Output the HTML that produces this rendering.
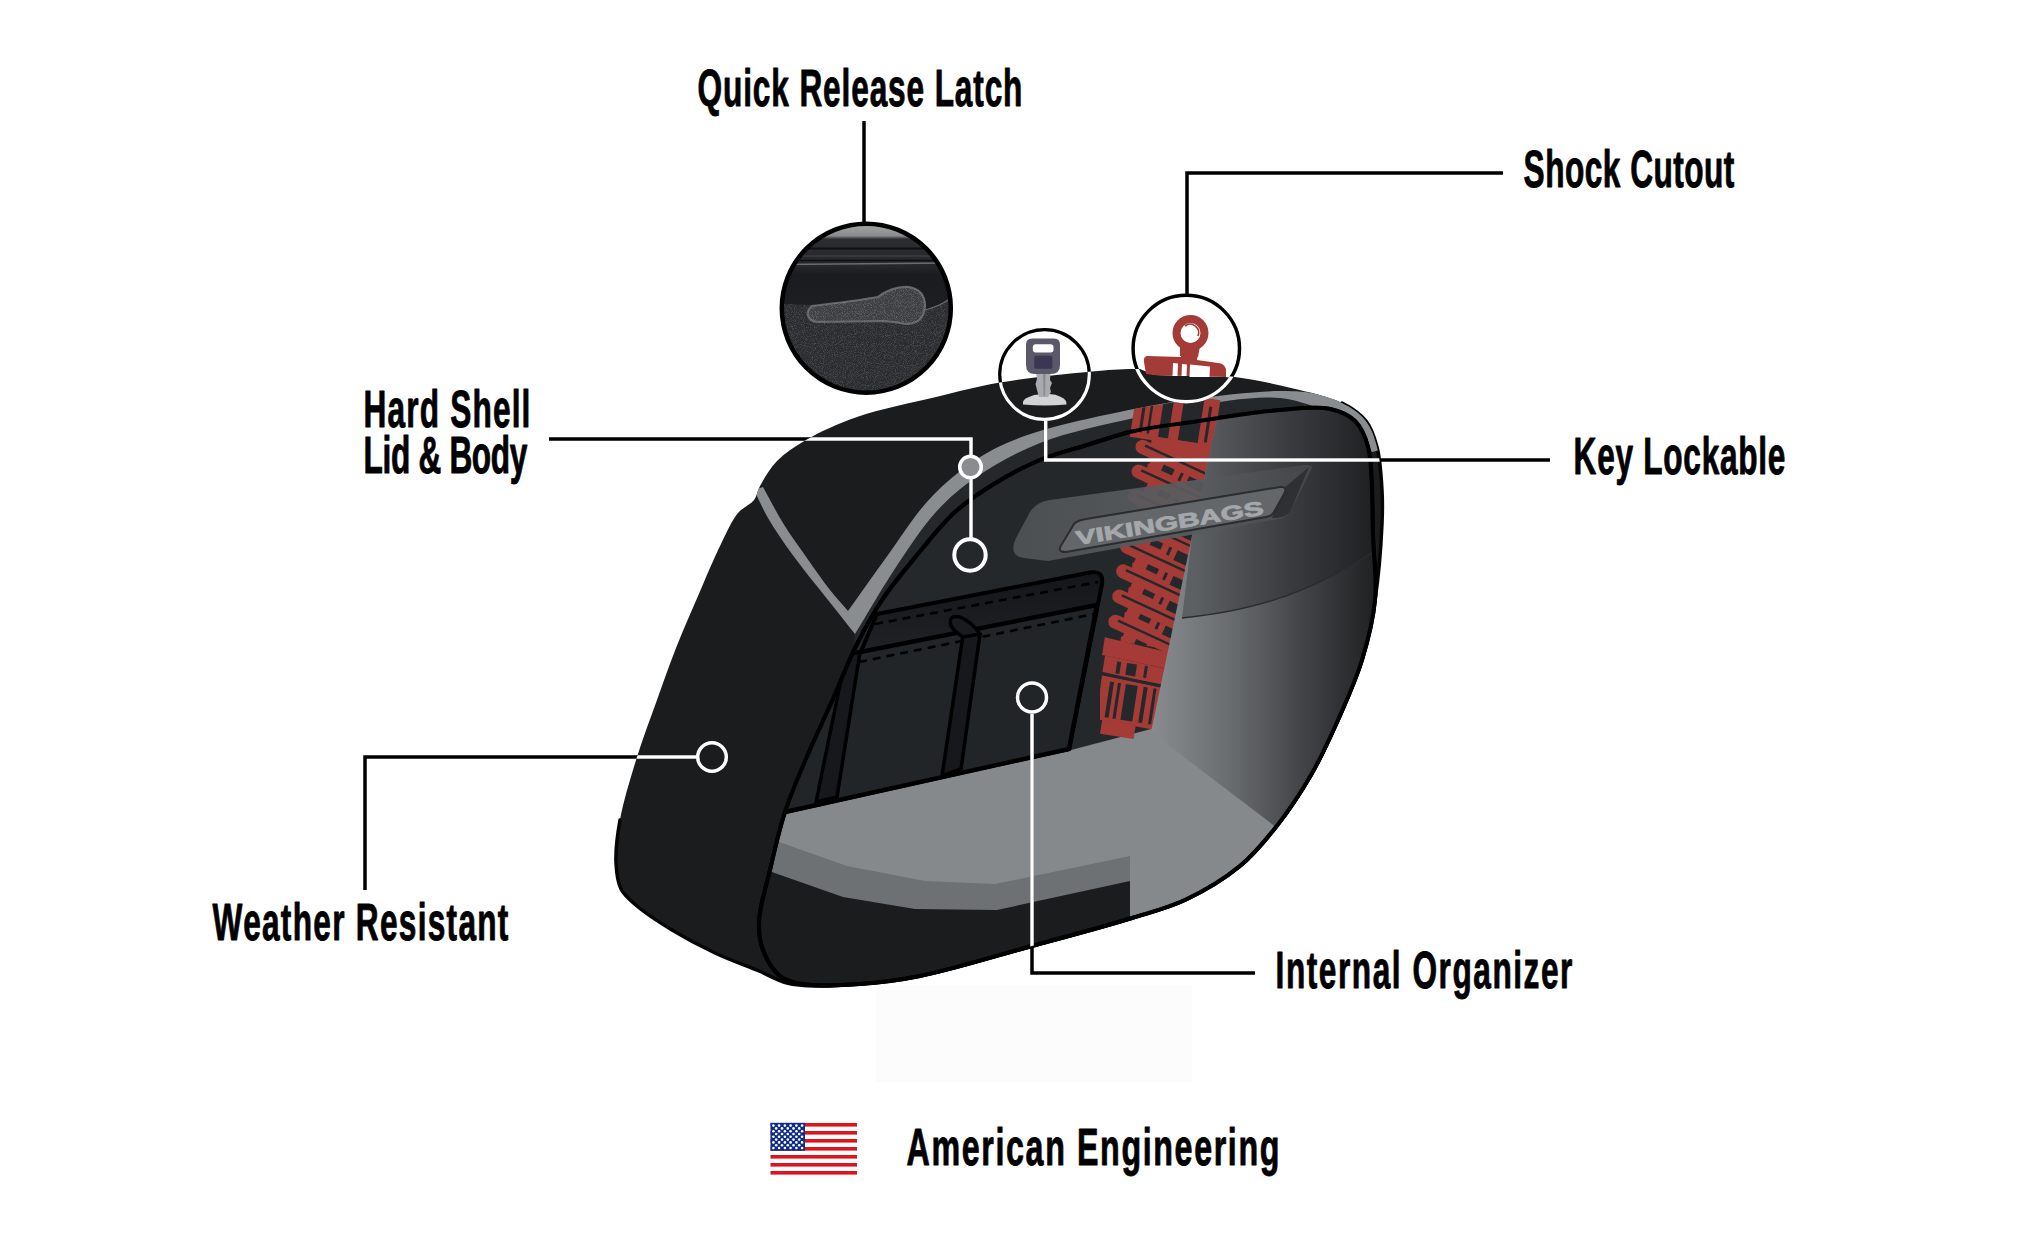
<!DOCTYPE html>
<html><head><meta charset="utf-8">
<style>
html,body{margin:0;padding:0;background:#fff;}
body{width:2044px;height:1248px;overflow:hidden;}
svg{display:block;}
text{font-family:"Liberation Sans",sans-serif;font-weight:bold;}
</style></head><body>
<svg width="2044" height="1248" viewBox="0 0 2044 1248">
<defs><clipPath id="silclip"><path d="M760.0 486.0 C764.0 478.7 769.8 468.4 777.0 461.0 C784.8 452.9 794.6 446.6 806.0 440.0 C820.3 431.7 837.8 423.7 857.0 417.0 C880.2 408.9 911.0 403.0 936.0 397.0 C958.4 391.6 976.6 386.5 1000.0 382.5 C1027.8 377.7 1066.2 373.7 1092.0 371.5 C1110.5 369.9 1121.3 368.7 1140.0 369.0 C1166.3 369.4 1207.6 373.2 1235.0 377.0 C1256.2 380.0 1272.9 383.6 1291.0 388.0 C1308.5 392.3 1328.6 396.3 1342.0 403.0 C1352.0 408.0 1360.1 413.5 1366.0 421.0 C1371.7 428.3 1374.4 437.0 1377.0 447.0 C1380.3 459.3 1381.2 476.5 1382.0 490.0 C1382.7 502.0 1382.6 510.4 1382.0 524.0 C1381.1 544.3 1378.7 576.3 1375.0 600.0 C1371.7 621.3 1368.0 640.2 1362.0 660.0 C1355.8 680.3 1346.6 700.6 1338.0 720.0 C1329.6 738.9 1321.3 757.3 1311.0 775.0 C1300.6 792.9 1288.4 811.3 1276.0 827.0 C1264.6 841.4 1254.2 854.3 1240.0 866.0 C1224.3 878.9 1203.7 891.2 1185.0 900.0 C1167.6 908.2 1152.5 911.6 1132.0 918.0 C1104.0 926.7 1066.3 936.6 1032.0 946.0 C995.8 955.9 951.7 969.7 920.0 976.0 C897.1 980.6 878.5 982.4 860.0 984.0 C844.2 985.4 829.1 986.4 816.0 986.0 C805.3 985.7 796.4 985.4 787.0 983.0 C777.4 980.5 769.4 975.4 759.0 971.0 C746.0 965.6 729.4 959.8 715.0 953.0 C700.4 946.1 685.4 938.1 672.0 930.0 C659.5 922.4 646.1 913.8 637.0 906.0 C630.3 900.2 624.5 895.9 621.0 889.0 C617.3 881.7 616.5 872.8 616.0 863.0 C615.4 850.5 617.2 835.6 620.0 820.0 C623.4 800.9 630.7 777.4 637.0 757.0 C643.1 737.4 650.4 718.5 657.0 700.0 C663.4 682.2 669.2 665.2 676.0 648.0 C682.9 630.6 690.5 613.3 698.0 596.0 C705.5 578.6 713.6 559.0 721.0 544.0 C726.8 532.2 731.6 520.7 738.0 513.0 C742.9 507.1 750.3 504.9 754.0 500.0 C757.2 495.8 757.2 491.2 760.0 486.0Z"/></clipPath>
<clipPath id="openclip"><path d="M802.0 984.0 C792.7 982.4 786.2 980.9 780.0 976.0 C772.8 970.3 766.5 959.3 763.0 950.0 C759.6 941.0 758.6 932.0 759.0 921.0 C759.6 906.3 765.9 887.5 770.0 870.0 C774.4 851.2 778.9 830.7 785.0 812.0 C791.0 793.7 798.3 777.1 806.0 759.0 C814.2 739.5 824.3 718.6 833.0 699.0 C841.3 680.3 848.4 661.1 857.0 644.0 C864.9 628.3 872.4 614.4 882.0 600.0 C892.2 584.7 904.9 569.6 917.0 555.0 C929.2 540.3 941.5 524.2 955.0 512.0 C967.3 500.9 980.1 492.5 994.0 484.0 C1008.4 475.1 1024.3 466.5 1040.0 460.0 C1055.3 453.6 1071.3 449.8 1087.0 445.0 C1102.6 440.2 1117.4 434.7 1134.0 431.0 C1152.2 426.9 1170.6 425.1 1192.0 422.0 C1218.3 418.2 1254.7 412.0 1280.0 410.0 C1299.0 408.5 1316.5 406.1 1330.0 409.0 C1340.1 411.2 1348.7 414.8 1355.0 421.0 C1361.5 427.4 1364.9 435.3 1368.0 447.0 C1373.5 467.6 1371.8 509.7 1373.0 537.0 C1374.0 559.9 1376.9 579.4 1375.0 600.0 C1373.1 620.4 1368.0 640.2 1362.0 660.0 C1355.8 680.3 1346.6 700.6 1338.0 720.0 C1329.6 738.9 1321.3 757.3 1311.0 775.0 C1300.6 792.9 1288.4 811.3 1276.0 827.0 C1264.6 841.4 1254.2 854.3 1240.0 866.0 C1224.3 878.9 1203.7 891.2 1185.0 900.0 C1167.6 908.2 1152.5 911.6 1132.0 918.0 C1104.0 926.7 1066.3 936.6 1032.0 946.0 C995.8 955.9 951.7 969.7 920.0 976.0 C897.1 980.6 879.9 982.7 860.0 984.0 C840.5 985.3 816.6 986.6 802.0 984.0Z"/></clipPath>
<linearGradient id="wallg" x1="1150" y1="0" x2="1385" y2="0" gradientUnits="userSpaceOnUse"><stop offset="0" stop-color="#8a8d90"/><stop offset="0.35" stop-color="#5f6265"/><stop offset="0.75" stop-color="#34363a"/><stop offset="1" stop-color="#1c1d1f"/></linearGradient>
<linearGradient id="pockg" x1="0" y1="575" x2="0" y2="660" gradientUnits="userSpaceOnUse"><stop offset="0" stop-color="#151619"/><stop offset="1" stop-color="#212326"/></linearGradient>
<clipPath id="shockarea"><path d="M1100 415 L1134 409 L1193 399 L1280 391 L1280 760 L1100 760 Z"/></clipPath>
<linearGradient id="wallup" x1="1195" y1="0" x2="1380" y2="0" gradientUnits="userSpaceOnUse"><stop offset="0" stop-color="#5d6063"/><stop offset="0.5" stop-color="#3a3c3f"/><stop offset="1" stop-color="#1d1e20"/></linearGradient>
<linearGradient id="walllo" x1="1150" y1="0" x2="1375" y2="0" gradientUnits="userSpaceOnUse"><stop offset="0" stop-color="#8a8d90"/><stop offset="0.35" stop-color="#6a6d70"/><stop offset="0.7" stop-color="#3f4144"/><stop offset="1" stop-color="#202123"/></linearGradient>
<linearGradient id="badgeg" x1="1014" y1="0" x2="1311" y2="0" gradientUnits="userSpaceOnUse"><stop offset="0" stop-color="#505356"/><stop offset="0.6" stop-color="#5a5d60"/><stop offset="1" stop-color="#45484b"/></linearGradient>
<clipPath id="keyclip"><circle cx="1044.5" cy="374.5" r="44.8"/></clipPath>
<clipPath id="shockclip"><circle cx="1186.3" cy="348.5" r="53.2"/></clipPath>
<clipPath id="latchclip"><circle cx="866.3" cy="308.2" r="84.5"/></clipPath>
<filter id="noise" x="0" y="0" width="100%" height="100%"><feTurbulence type="fractalNoise" baseFrequency="1.1" numOctaves="2" seed="7" result="t"/><feColorMatrix in="t" type="matrix" values="0 0 0 0 0.55  0 0 0 0 0.57  0 0 0 0 0.6  0 0 0 -2.2 1.25" result="n"/><feComposite in="n" in2="SourceGraphic" operator="in"/></filter>
<linearGradient id="latchbg" x1="0" y1="224" x2="0" y2="392" gradientUnits="userSpaceOnUse"><stop offset="0" stop-color="#a3a5a7"/><stop offset="0.07" stop-color="#8a8c8e"/><stop offset="0.09" stop-color="#2c2e31"/><stop offset="0.25" stop-color="#25272a"/><stop offset="0.3" stop-color="#1b1c1f"/><stop offset="0.5" stop-color="#1d1e21"/><stop offset="1" stop-color="#2a2c2f"/></linearGradient></defs>
<rect x="876" y="986" width="316" height="96" fill="#fcfcfc"/>
<path d="M760.0 486.0 C764.0 478.7 769.8 468.4 777.0 461.0 C784.8 452.9 794.6 446.6 806.0 440.0 C820.3 431.7 837.8 423.7 857.0 417.0 C880.2 408.9 911.0 403.0 936.0 397.0 C958.4 391.6 976.6 386.5 1000.0 382.5 C1027.8 377.7 1066.2 373.7 1092.0 371.5 C1110.5 369.9 1121.3 368.7 1140.0 369.0 C1166.3 369.4 1207.6 373.2 1235.0 377.0 C1256.2 380.0 1272.9 383.6 1291.0 388.0 C1308.5 392.3 1328.6 396.3 1342.0 403.0 C1352.0 408.0 1360.1 413.5 1366.0 421.0 C1371.7 428.3 1374.4 437.0 1377.0 447.0 C1380.3 459.3 1381.2 476.5 1382.0 490.0 C1382.7 502.0 1382.6 510.4 1382.0 524.0 C1381.1 544.3 1378.7 576.3 1375.0 600.0 C1371.7 621.3 1368.0 640.2 1362.0 660.0 C1355.8 680.3 1346.6 700.6 1338.0 720.0 C1329.6 738.9 1321.3 757.3 1311.0 775.0 C1300.6 792.9 1288.4 811.3 1276.0 827.0 C1264.6 841.4 1254.2 854.3 1240.0 866.0 C1224.3 878.9 1203.7 891.2 1185.0 900.0 C1167.6 908.2 1152.5 911.6 1132.0 918.0 C1104.0 926.7 1066.3 936.6 1032.0 946.0 C995.8 955.9 951.7 969.7 920.0 976.0 C897.1 980.6 878.5 982.4 860.0 984.0 C844.2 985.4 829.1 986.4 816.0 986.0 C805.3 985.7 796.4 985.4 787.0 983.0 C777.4 980.5 769.4 975.4 759.0 971.0 C746.0 965.6 729.4 959.8 715.0 953.0 C700.4 946.1 685.4 938.1 672.0 930.0 C659.5 922.4 646.1 913.8 637.0 906.0 C630.3 900.2 624.5 895.9 621.0 889.0 C617.3 881.7 616.5 872.8 616.0 863.0 C615.4 850.5 617.2 835.6 620.0 820.0 C623.4 800.9 630.7 777.4 637.0 757.0 C643.1 737.4 650.4 718.5 657.0 700.0 C663.4 682.2 669.2 665.2 676.0 648.0 C682.9 630.6 690.5 613.3 698.0 596.0 C705.5 578.6 713.6 559.0 721.0 544.0 C726.8 532.2 731.6 520.7 738.0 513.0 C742.9 507.1 750.3 504.9 754.0 500.0 C757.2 495.8 757.2 491.2 760.0 486.0Z" fill="#1b1c1e"/>
<path d="M1342.0 403.0 C1352.0 408.0 1360.1 413.5 1366.0 421.0 C1371.7 428.3 1374.4 437.0 1377.0 447.0 C1380.3 459.3 1381.2 476.5 1382.0 490.0 C1382.7 502.0 1382.6 510.4 1382.0 524.0 C1381.1 544.3 1378.7 576.3 1375.0 600.0 C1371.7 621.3 1368.0 640.2 1362.0 660.0 C1355.8 680.3 1346.6 700.6 1338.0 720.0 C1329.6 738.9 1321.3 757.3 1311.0 775.0 C1300.6 792.9 1288.4 811.3 1276.0 827.0 C1264.6 841.4 1254.2 854.3 1240.0 866.0 C1224.3 878.9 1203.7 891.2 1185.0 900.0 C1167.6 908.2 1152.5 911.6 1132.0 918.0 C1104.0 926.7 1066.3 936.6 1032.0 946.0 C995.8 955.9 951.7 969.7 920.0 976.0 C897.1 980.6 878.5 982.4 860.0 984.0 C844.2 985.4 829.1 986.4 816.0 986.0 C805.3 985.7 796.4 985.4 787.0 983.0 C777.4 980.5 769.4 975.4 759.0 971.0 C746.0 965.6 729.4 959.8 715.0 953.0 C700.4 946.1 685.4 938.1 672.0 930.0 C659.5 922.4 646.1 913.8 637.0 906.0 C630.3 900.2 624.5 895.9 621.0 889.0 C617.3 881.7 616.5 872.8 616.0 863.0 C615.4 850.5 617.2 835.6 620.0 820.0" fill="none" stroke="#050505" stroke-width="3.5" stroke-linejoin="round" stroke-linecap="round"/>
<path d="M1372.0 452.0 C1366.7 444.0 1362.8 434.4 1356.0 428.0 C1349.4 421.8 1341.8 418.3 1332.0 414.0 C1318.2 408.0 1299.8 400.1 1280.0 398.0 C1254.9 395.4 1219.1 402.2 1193.0 406.0 C1171.3 409.2 1155.9 412.9 1134.0 418.0 C1106.2 424.5 1067.9 432.0 1040.0 443.0 C1015.7 452.6 993.3 465.3 975.0 478.0 C959.7 488.6 948.2 498.7 936.0 512.0 C922.4 526.9 910.7 545.1 898.0 564.0 C883.7 585.3 869.3 610.7 855.0 634.0 L851 668 L878 612 L917 555 L955 512 L994 484 L1040 460 L1087 445 L1134 431 L1192 422 L1280 410 L1330 409 L1355 421 L1368 447 Z" fill="#25282b"/>
<path d="M763.0 487.0 C769.7 499.0 775.6 511.0 783.0 523.0 C790.8 535.7 800.7 549.2 809.0 561.0 C816.3 571.4 823.1 581.2 830.0 590.0 C836.1 597.7 842.0 604.0 848.0 611.0 L848.0 611.0 C861.3 592.3 874.8 573.3 888.0 555.0 C900.8 537.3 913.1 517.6 926.0 503.0 C936.8 490.8 947.4 481.1 959.0 472.0 C970.1 463.2 981.2 455.6 994.0 449.0 C1007.9 441.8 1021.7 436.7 1040.0 431.0 C1065.6 423.1 1106.2 414.6 1134.0 409.0 C1155.9 404.6 1171.4 401.8 1193.0 399.0 C1219.1 395.6 1257.1 391.1 1280.0 391.0 C1294.9 390.9 1305.2 391.6 1317.0 394.0 C1328.5 396.3 1341.2 399.4 1350.0 405.0 C1357.6 409.9 1363.1 416.7 1368.0 424.0 C1373.2 431.6 1376.0 441.3 1380.0 450.0 L1372.0 452.0 C1366.7 444.0 1362.8 434.4 1356.0 428.0 C1349.4 421.8 1341.8 418.3 1332.0 414.0 C1318.2 408.0 1299.8 400.1 1280.0 398.0 C1254.9 395.4 1219.1 402.2 1193.0 406.0 C1171.3 409.2 1155.9 412.9 1134.0 418.0 C1106.2 424.5 1067.9 432.0 1040.0 443.0 C1015.7 452.6 993.3 465.3 975.0 478.0 C959.7 488.6 948.2 498.7 936.0 512.0 C922.4 526.9 910.7 545.1 898.0 564.0 C883.7 585.3 869.3 610.7 855.0 634.0 L855.0 634.0 C846.0 622.7 837.6 612.2 828.0 600.0 C816.8 585.8 802.5 568.6 792.0 554.0 C782.9 541.4 774.6 529.4 768.0 518.0 C762.4 508.3 758.7 499.3 754.0 490.0 Z" fill="#8a8d90" clip-path="url(#silclip)"/>
<path d="M802.0 984.0 C792.7 982.4 786.2 980.9 780.0 976.0 C772.8 970.3 766.5 959.3 763.0 950.0 C759.6 941.0 758.6 932.0 759.0 921.0 C759.6 906.3 765.9 887.5 770.0 870.0 C774.4 851.2 778.9 830.7 785.0 812.0 C791.0 793.7 798.3 777.1 806.0 759.0 C814.2 739.5 824.3 718.6 833.0 699.0 C841.3 680.3 848.4 661.1 857.0 644.0 C864.9 628.3 872.4 614.4 882.0 600.0 C892.2 584.7 904.9 569.6 917.0 555.0 C929.2 540.3 941.5 524.2 955.0 512.0 C967.3 500.9 980.1 492.5 994.0 484.0 C1008.4 475.1 1024.3 466.5 1040.0 460.0 C1055.3 453.6 1071.3 449.8 1087.0 445.0 C1102.6 440.2 1117.4 434.7 1134.0 431.0 C1152.2 426.9 1170.6 425.1 1192.0 422.0 C1218.3 418.2 1254.7 412.0 1280.0 410.0 C1299.0 408.5 1316.5 406.1 1330.0 409.0 C1340.1 411.2 1348.7 414.8 1355.0 421.0 C1361.5 427.4 1364.9 435.3 1368.0 447.0 C1373.5 467.6 1371.8 509.7 1373.0 537.0 C1374.0 559.9 1376.9 579.4 1375.0 600.0 C1373.1 620.4 1368.0 640.2 1362.0 660.0 C1355.8 680.3 1346.6 700.6 1338.0 720.0 C1329.6 738.9 1321.3 757.3 1311.0 775.0 C1300.6 792.9 1288.4 811.3 1276.0 827.0 C1264.6 841.4 1254.2 854.3 1240.0 866.0 C1224.3 878.9 1203.7 891.2 1185.0 900.0 C1167.6 908.2 1152.5 911.6 1132.0 918.0 C1104.0 926.7 1066.3 936.6 1032.0 946.0 C995.8 955.9 951.7 969.7 920.0 976.0 C897.1 980.6 879.9 982.7 860.0 984.0 C840.5 985.3 816.6 986.6 802.0 984.0Z" fill="#25282b"/>
<g clip-path="url(#openclip)">
<path d="M770 815 L1071 750 L1155 728 L1276 827 L1300 1000 L700 1000 Z" fill="#86898c"/>
<path d="M779 842 L847 866 L925 881 L995 884 L1130 856 L1130 1000 L700 1000 L700 842 Z" fill="#6e7174"/>
<path d="M769 871 L843 897 L915 909 L997 910 L1130 881 L1130 1000 L700 1000 L700 871 Z" fill="#1b1c1e"/>
</g>
<path d="M802.0 984.0 C792.7 982.4 786.2 980.9 780.0 976.0 C772.8 970.3 766.5 959.3 763.0 950.0 C759.6 941.0 758.6 932.0 759.0 921.0 C759.6 906.3 765.9 887.5 770.0 870.0 C774.4 851.2 778.9 830.7 785.0 812.0 C791.0 793.7 798.3 777.1 806.0 759.0 C814.2 739.5 824.3 718.6 833.0 699.0 C841.3 680.3 848.4 661.1 857.0 644.0 C864.9 628.3 872.4 614.4 882.0 600.0 C892.2 584.7 904.9 569.6 917.0 555.0 C929.2 540.3 941.5 524.2 955.0 512.0 C967.3 500.9 980.1 492.5 994.0 484.0 C1008.4 475.1 1024.3 466.5 1040.0 460.0 C1055.3 453.6 1071.3 449.8 1087.0 445.0 C1102.6 440.2 1117.4 434.7 1134.0 431.0 C1152.2 426.9 1170.6 425.1 1192.0 422.0 C1218.3 418.2 1254.7 412.0 1280.0 410.0 C1299.0 408.5 1316.5 406.1 1330.0 409.0 C1340.1 411.2 1348.7 414.8 1355.0 421.0 C1361.5 427.4 1364.9 435.3 1368.0 447.0 C1373.5 467.6 1371.8 509.7 1373.0 537.0 C1374.0 559.9 1376.9 579.4 1375.0 600.0 C1373.1 620.4 1368.0 640.2 1362.0 660.0 C1355.8 680.3 1346.6 700.6 1338.0 720.0 C1329.6 738.9 1321.3 757.3 1311.0 775.0 C1300.6 792.9 1288.4 811.3 1276.0 827.0 C1264.6 841.4 1254.2 854.3 1240.0 866.0 C1224.3 878.9 1203.7 891.2 1185.0 900.0 C1167.6 908.2 1152.5 911.6 1132.0 918.0 C1104.0 926.7 1066.3 936.6 1032.0 946.0 C995.8 955.9 951.7 969.7 920.0 976.0 C897.1 980.6 879.9 982.7 860.0 984.0 C840.5 985.3 816.6 986.6 802.0 984.0Z" fill="none" stroke="#000" stroke-width="4" stroke-linejoin="round"/>
<g clip-path="url(#openclip)">
<path d="M840 700 L877 614 L1090 572.5 Q1104 570 1102 584 L1069 749 L785 812 Z" fill="url(#pockg)" stroke="#000" stroke-width="4" stroke-linejoin="round"/>
<path d="M875 624 L1098 582" fill="none" stroke="#000" stroke-width="2.6" stroke-dasharray="8 6"/>
<path d="M830 658 L1097 605 L1069 749 L785 812 Z" fill="#222528" stroke="#000" stroke-width="4.5" stroke-linejoin="round"/>
<path d="M859 662 L1094 614" fill="none" stroke="#000" stroke-width="2.6" stroke-dasharray="8 6"/>
<path d="M963 635 L980 634 L961 769 L942 776 Z" fill="#17181b" stroke="#000" stroke-width="3.5" stroke-linejoin="round"/>
<path d="M951 626 Q948 614 960 617 Q972 622 980 634 L963 637 Q955 632 951 626 Z" fill="#1a1b1e" stroke="#000" stroke-width="3.5" stroke-linejoin="round"/>
<path d="M846 655 L860 652 L837 797 L816 802 Z" fill="#17181b" stroke="#000" stroke-width="3.5" stroke-linejoin="round"/>
</g>
<g clip-path="url(#silclip)"><g clip-path="url(#shockarea)">
<g transform="translate(1180 400) rotate(8.8)">
<rect x="-44" y="-6" width="84" height="50" fill="#a43b36"/>
<rect x="-16" y="-6" width="10" height="46" fill="#25282b"/>
<rect x="4" y="-6" width="20" height="46" fill="#25282b"/>
<rect x="-36" y="2" width="3" height="36" fill="#25282b"/>
<rect x="-28" y="2" width="2.5" height="36" fill="#25282b"/>
<rect x="30" y="2" width="3" height="36" fill="#25282b"/>
<rect x="-22" y="40" width="60" height="208" fill="#a43b36"/>
<g transform="translate(0 52) rotate(16)"><rect x="-26" y="7" width="4" height="14" fill="#25282b"/><rect x="-18" y="7" width="2.5" height="14" fill="#25282b"/><rect x="-2" y="10" width="12" height="12" fill="#25282b"/><rect x="17" y="14" width="3" height="10" fill="#25282b"/><rect x="26" y="10" width="30" height="16" fill="#25282b"/></g>
<g transform="translate(0 77) rotate(16)"><rect x="-26" y="7" width="4" height="14" fill="#25282b"/><rect x="-18" y="7" width="2.5" height="14" fill="#25282b"/><rect x="-2" y="10" width="12" height="12" fill="#25282b"/><rect x="17" y="14" width="3" height="10" fill="#25282b"/><rect x="26" y="10" width="30" height="16" fill="#25282b"/></g>
<g transform="translate(0 102) rotate(16)"><rect x="-26" y="7" width="4" height="14" fill="#25282b"/><rect x="-18" y="7" width="2.5" height="14" fill="#25282b"/><rect x="-2" y="10" width="12" height="12" fill="#25282b"/><rect x="17" y="14" width="3" height="10" fill="#25282b"/><rect x="26" y="10" width="30" height="16" fill="#25282b"/></g>
<g transform="translate(0 127) rotate(16)"><rect x="-26" y="7" width="4" height="14" fill="#25282b"/><rect x="-18" y="7" width="2.5" height="14" fill="#25282b"/><rect x="-2" y="10" width="12" height="12" fill="#25282b"/><rect x="17" y="14" width="3" height="10" fill="#25282b"/><rect x="26" y="10" width="30" height="16" fill="#25282b"/></g>
<g transform="translate(0 152) rotate(16)"><rect x="-26" y="7" width="4" height="14" fill="#25282b"/><rect x="-18" y="7" width="2.5" height="14" fill="#25282b"/><rect x="-2" y="10" width="12" height="12" fill="#25282b"/><rect x="17" y="14" width="3" height="10" fill="#25282b"/><rect x="26" y="10" width="30" height="16" fill="#25282b"/></g>
<g transform="translate(0 177) rotate(16)"><rect x="-26" y="7" width="4" height="14" fill="#25282b"/><rect x="-18" y="7" width="2.5" height="14" fill="#25282b"/><rect x="-2" y="10" width="12" height="12" fill="#25282b"/><rect x="17" y="14" width="3" height="10" fill="#25282b"/><rect x="26" y="10" width="30" height="16" fill="#25282b"/></g>
<g transform="translate(0 202) rotate(16)"><rect x="-26" y="7" width="4" height="14" fill="#25282b"/><rect x="-18" y="7" width="2.5" height="14" fill="#25282b"/><rect x="-2" y="10" width="12" height="12" fill="#25282b"/><rect x="17" y="14" width="3" height="10" fill="#25282b"/><rect x="26" y="10" width="30" height="16" fill="#25282b"/></g>
<g transform="translate(0 227) rotate(16)"><rect x="-26" y="7" width="4" height="14" fill="#25282b"/><rect x="-18" y="7" width="2.5" height="14" fill="#25282b"/><rect x="-2" y="10" width="12" height="12" fill="#25282b"/><rect x="17" y="14" width="3" height="10" fill="#25282b"/><rect x="26" y="10" width="30" height="16" fill="#25282b"/></g>
<g transform="translate(-30 52) rotate(16)"><rect x="-7" y="-7" width="95" height="14" rx="7" fill="#a43b36"/><path d="M2 -2.2 L80 -2.2" stroke="#25282b" stroke-width="2.4"/></g>
<g transform="translate(-30 77) rotate(16)"><rect x="-7" y="-7" width="95" height="14" rx="7" fill="#a43b36"/><path d="M2 -2.2 L80 -2.2" stroke="#25282b" stroke-width="2.4"/></g>
<g transform="translate(-30 102) rotate(16)"><rect x="-7" y="-7" width="95" height="14" rx="7" fill="#a43b36"/><path d="M2 -2.2 L80 -2.2" stroke="#25282b" stroke-width="2.4"/></g>
<g transform="translate(-30 127) rotate(16)"><rect x="-7" y="-7" width="95" height="14" rx="7" fill="#a43b36"/><path d="M2 -2.2 L80 -2.2" stroke="#25282b" stroke-width="2.4"/></g>
<g transform="translate(-30 153) rotate(16)"><rect x="-7" y="-7" width="95" height="14" rx="7" fill="#a43b36"/><path d="M2 -2.2 L80 -2.2" stroke="#25282b" stroke-width="2.4"/></g>
<g transform="translate(-30 178) rotate(16)"><rect x="-7" y="-7" width="95" height="14" rx="7" fill="#a43b36"/><path d="M2 -2.2 L80 -2.2" stroke="#25282b" stroke-width="2.4"/></g>
<g transform="translate(-30 203.5) rotate(16)"><rect x="-7" y="-7" width="95" height="14" rx="7" fill="#a43b36"/><path d="M2 -2.2 L80 -2.2" stroke="#25282b" stroke-width="2.4"/></g>
<g transform="translate(-30 229) rotate(16)"><rect x="-7" y="-7" width="95" height="14" rx="7" fill="#a43b36"/><path d="M2 -2.2 L80 -2.2" stroke="#25282b" stroke-width="2.4"/></g>
<path d="M-38 246 L36 252 L34 268 L-38 264 Z" fill="#a43b36"/>
<path d="M-35 264 L32 268 L30 284 L-35 282 Z" fill="#a43b36"/>
<path d="M-35 284 L30 287 L26 330 L-34 328 Z" fill="#a43b36"/>
<path d="M-36 282 L31 286" stroke="#25282b" stroke-width="3"/>
<rect x="-26" y="289" width="4" height="36" fill="#25282b"/>
<rect x="-18" y="289" width="3" height="36" fill="#25282b"/>
<rect x="-10" y="289" width="12" height="36" fill="#25282b"/>
<rect x="8" y="289" width="4" height="36" fill="#25282b"/>
<rect x="18" y="289" width="3" height="36" fill="#25282b"/>
<rect x="-22" y="268" width="4" height="12" fill="#25282b"/>
<rect x="-12" y="268" width="10" height="12" fill="#25282b"/>
<rect x="6" y="268" width="3" height="12" fill="#25282b"/>
<rect x="-28" y="328" width="34" height="14" fill="#a43b36"/>
</g></g></g>
<g clip-path="url(#openclip)">
<path d="M1222 395 L1192 536 L1151 732 L1276 827 L1400 827 L1400 395 Z" fill="url(#walllo)"/>
<path d="M1222 395 L1192 536 L1182 618 C1240 612 1300 600 1378 549 L1400 395 Z" fill="url(#wallup)"/>
<path d="M1182 618 C1240 612 1300 600 1378 549" fill="none" stroke="#2a2c2f" stroke-width="1.5"/>
</g>
<path d="M802.0 984.0 C792.7 982.4 786.2 980.9 780.0 976.0 C772.8 970.3 766.5 959.3 763.0 950.0 C759.6 941.0 758.6 932.0 759.0 921.0 C759.6 906.3 765.9 887.5 770.0 870.0 C774.4 851.2 778.9 830.7 785.0 812.0 C791.0 793.7 798.3 777.1 806.0 759.0 C814.2 739.5 824.3 718.6 833.0 699.0 C841.3 680.3 848.4 661.1 857.0 644.0 C864.9 628.3 872.4 614.4 882.0 600.0 C892.2 584.7 904.9 569.6 917.0 555.0 C929.2 540.3 941.5 524.2 955.0 512.0 C967.3 500.9 980.1 492.5 994.0 484.0 C1008.4 475.1 1024.3 466.5 1040.0 460.0 C1055.3 453.6 1071.3 449.8 1087.0 445.0 C1102.6 440.2 1117.4 434.7 1134.0 431.0 C1152.2 426.9 1170.6 425.1 1192.0 422.0 C1218.3 418.2 1254.7 412.0 1280.0 410.0 C1299.0 408.5 1316.5 406.1 1330.0 409.0 C1340.1 411.2 1348.7 414.8 1355.0 421.0 C1361.5 427.4 1364.9 435.3 1368.0 447.0 C1373.5 467.6 1371.8 509.7 1373.0 537.0 C1374.0 559.9 1376.9 579.4 1375.0 600.0 C1373.1 620.4 1368.0 640.2 1362.0 660.0 C1355.8 680.3 1346.6 700.6 1338.0 720.0 C1329.6 738.9 1321.3 757.3 1311.0 775.0 C1300.6 792.9 1288.4 811.3 1276.0 827.0 C1264.6 841.4 1254.2 854.3 1240.0 866.0 C1224.3 878.9 1203.7 891.2 1185.0 900.0 C1167.6 908.2 1152.5 911.6 1132.0 918.0 C1104.0 926.7 1066.3 936.6 1032.0 946.0 C995.8 955.9 951.7 969.7 920.0 976.0 C897.1 980.6 879.9 982.7 860.0 984.0 C840.5 985.3 816.6 986.6 802.0 984.0Z" fill="none" stroke="#000" stroke-width="4" stroke-linejoin="round"/>
<path d="M1024 558 Q1008 556 1016 538 L1030 512 Q1036 502 1050 500 L1305 465 Q1316 464 1310 472 L1290 512 Q1286 518 1278 519 L1048 561 Z" fill="url(#badgeg)" opacity="0.92"/>
<path d="M1283 489 L1309 467 L1290 512 Q1286 518 1272 518 Z" fill="#2c2e31" opacity="0.9"/>
<path d="M1066 552 Q1056 552 1062 544 L1074 524 Q1078 520 1086 519 L1280 487 Q1288 486 1284 494 L1274 512 Q1272 516 1266 517 Z" fill="#646769" stroke="#2a2c2f" stroke-width="2"/>
<text x="0" y="0" font-size="23" fill="#a5a8ab" stroke="#a5a8ab" stroke-width="0.9" textLength="190" lengthAdjust="spacingAndGlyphs" transform="translate(1077 545) rotate(-9.3) scale(1 0.85)">VIKINGBAGS</text>
<path d="M549 439 L971 439 L971 555" fill="none" stroke="#000" stroke-width="3.5"/>
<g clip-path="url(#silclip)"><path d="M549 439 L971 439 L971 555" fill="none" stroke="#fff" stroke-width="3.5"/></g>
<circle cx="970.5" cy="467" r="10.8" fill="#8a8d90" stroke="#fff" stroke-width="3.5"/>
<circle cx="970" cy="555" r="15.7" fill="#25282b" stroke="#fff" stroke-width="4"/>
<path d="M365 890 L365 757 L697 757" fill="none" stroke="#000" stroke-width="3.5"/>
<g clip-path="url(#silclip)"><path d="M365 890 L365 757 L697 757" fill="none" stroke="#fff" stroke-width="3.5"/></g>
<circle cx="712" cy="757" r="14.3" fill="none" stroke="#fff" stroke-width="3.5"/>
<path d="M1032 714 L1032 973 L1255 973" fill="none" stroke="#000" stroke-width="3.5"/>
<g clip-path="url(#silclip)"><path d="M1032 714 L1032 973 L1255 973" fill="none" stroke="#fff" stroke-width="3.5"/></g>
<circle cx="1032" cy="697.5" r="14.5" fill="none" stroke="#fff" stroke-width="3.5"/>
<path d="M1045.7 418 L1045.7 460 L1550 460" fill="none" stroke="#000" stroke-width="3.5"/>
<g clip-path="url(#silclip)"><path d="M1045.7 418 L1045.7 460 L1550 460" fill="none" stroke="#fff" stroke-width="3.5"/></g>
<path d="M1503 173 L1187 173 L1187 294" fill="none" stroke="#000" stroke-width="3.5"/>
<path d="M864 121 L864 222" fill="none" stroke="#000" stroke-width="3.5"/>
<g clip-path="url(#keyclip)"><rect x="990" y="320" width="110" height="110" fill="#fff"/><path d="M760.0 486.0 C764.0 478.7 769.8 468.4 777.0 461.0 C784.8 452.9 794.6 446.6 806.0 440.0 C820.3 431.7 837.8 423.7 857.0 417.0 C880.2 408.9 911.0 403.0 936.0 397.0 C958.4 391.6 976.6 386.5 1000.0 382.5 C1027.8 377.7 1066.2 373.7 1092.0 371.5 C1110.5 369.9 1121.3 368.7 1140.0 369.0 C1166.3 369.4 1207.6 373.2 1235.0 377.0 C1256.2 380.0 1272.9 383.6 1291.0 388.0 C1308.5 392.3 1328.6 396.3 1342.0 403.0 C1352.0 408.0 1360.1 413.5 1366.0 421.0 C1371.7 428.3 1374.4 437.0 1377.0 447.0 C1380.3 459.3 1381.2 476.5 1382.0 490.0 C1382.7 502.0 1382.6 510.4 1382.0 524.0 C1381.1 544.3 1378.7 576.3 1375.0 600.0 C1371.7 621.3 1368.0 640.2 1362.0 660.0 C1355.8 680.3 1346.6 700.6 1338.0 720.0 C1329.6 738.9 1321.3 757.3 1311.0 775.0 C1300.6 792.9 1288.4 811.3 1276.0 827.0 C1264.6 841.4 1254.2 854.3 1240.0 866.0 C1224.3 878.9 1203.7 891.2 1185.0 900.0 C1167.6 908.2 1152.5 911.6 1132.0 918.0 C1104.0 926.7 1066.3 936.6 1032.0 946.0 C995.8 955.9 951.7 969.7 920.0 976.0 C897.1 980.6 878.5 982.4 860.0 984.0 C844.2 985.4 829.1 986.4 816.0 986.0 C805.3 985.7 796.4 985.4 787.0 983.0 C777.4 980.5 769.4 975.4 759.0 971.0 C746.0 965.6 729.4 959.8 715.0 953.0 C700.4 946.1 685.4 938.1 672.0 930.0 C659.5 922.4 646.1 913.8 637.0 906.0 C630.3 900.2 624.5 895.9 621.0 889.0 C617.3 881.7 616.5 872.8 616.0 863.0 C615.4 850.5 617.2 835.6 620.0 820.0 C623.4 800.9 630.7 777.4 637.0 757.0 C643.1 737.4 650.4 718.5 657.0 700.0 C663.4 682.2 669.2 665.2 676.0 648.0 C682.9 630.6 690.5 613.3 698.0 596.0 C705.5 578.6 713.6 559.0 721.0 544.0 C726.8 532.2 731.6 520.7 738.0 513.0 C742.9 507.1 750.3 504.9 754.0 500.0 C757.2 495.8 757.2 491.2 760.0 486.0Z" fill="#1b1c1e"/></g>
<path d="M1023 404.5 Q1022 399 1029 397 Q1035 393.5 1044 394.5 Q1054 393 1061 397 Q1067 399.5 1066.5 404.5 Q1045 406.5 1023 404.5 Z" fill="#d2d3d5"/>
<path d="M1036 373 L1050.5 373 L1050 380 L1052 383 L1050 388 L1051 392 L1048 397 L1039 397 L1037 390 L1035.5 384 L1037 379 Z" fill="#a9aaaf"/>
<path d="M1043 374 L1045.5 374 L1045 396 L1043.5 396 Z" fill="#8a8b92"/>
<path d="M1032 338.5 L1054 338.5 Q1060 338.5 1060 344.5 L1060 365 Q1060 374 1051 374 L1035 374 Q1026 374 1026 365 L1026 344.5 Q1026 338.5 1032 338.5 Z" fill="#5b5869"/>
<rect x="1032.8" y="344.2" width="20.7" height="8.4" rx="3" fill="#fff"/>
<rect x="1034.3" y="355.8" width="18" height="12.9" rx="1.5" fill="#3b3651"/>
<circle cx="1044.5" cy="374.5" r="44.8" fill="none" stroke="#000" stroke-width="3.2"/>
<g clip-path="url(#silclip)"><circle cx="1044.5" cy="374.5" r="44.8" fill="none" stroke="#fff" stroke-width="3.2"/></g>
<g clip-path="url(#shockclip)"><rect x="1120" y="280" width="140" height="140" fill="#fff"/>
<path d="M1120 369 L1140 369 L1154 375 L1225 377 L1260 381 L1260 430 L1120 430 Z" fill="#1b1c1e"/>
<path d="M1147 356 Q1143 357 1144 362 L1146 374 L1154 375 L1226 377 L1226 369 Q1224 363 1218 363 L1197 360 L1198 352 L1181 350 L1181 357 Z" fill="#a43b36"/>
<path d="M1173 363 L1178 363.5 L1177.5 376 L1172.5 376 Z M1182 364 L1187 364.5 L1186.5 376 L1181.5 376 Z M1190 364.5 L1210 366.5 L1209.5 377 L1189.5 377 Z" fill="#fff"/>
<circle cx="1190.5" cy="333" r="18" fill="#a43b36"/><circle cx="1190.5" cy="333" r="10" fill="#fff"/><path d="M1185 326 A8.5 8.5 0 0 1 1198 336" fill="none" stroke="#a43b36" stroke-width="1.6"/>
<path d="M1180 344 L1200 346 L1198 357 L1180 356 Z" fill="#a43b36"/>
</g>
<circle cx="1186.3" cy="348.5" r="53.2" fill="none" stroke="#000" stroke-width="3.5"/>
<g clip-path="url(#silclip)"><circle cx="1186.3" cy="348.5" r="53.2" fill="none" stroke="#fff" stroke-width="3.5"/></g>
<g clip-path="url(#latchclip)">
<rect x="780" y="222" width="175" height="175" fill="url(#latchbg)"/>
<path d="M780 248.5 L952 248.5" stroke="#0e0f11" stroke-width="2"/><path d="M780 256 L952 256" stroke="#45474a" stroke-width="1.2"/>
<path d="M780 260.5 L952 260.5" stroke="#0e0f11" stroke-width="1.5"/><path d="M780 264.5 L952 263" stroke="#6a6c6f" stroke-width="1.3"/>
<path d="M780 304 Q850 306 925 310 Q940 306 948 300 L955 298 L955 400 L780 400 Z" fill="#292b2e"/>
<path d="M780 304 Q850 306 925 310 Q940 306 948 300 L955 298 L955 400 L780 400 Z" fill="#000" filter="url(#noise)" opacity="0.28"/>
<path d="M925 310 Q940 306 948 300" fill="none" stroke="#6a6c6f" stroke-width="1.2"/>
<path d="M811 320 Q804 313 812 306 Q855 301 878 297 Q893 286 909 287 Q925 290 925 306 Q924 324 906 324 Q895 322 885 321 L819 322 Q814 322 811 320 Z" fill="#3c3e41" stroke="#65686b" stroke-width="2.2"/>
<path d="M811 320 Q804 313 812 306 Q855 301 878 297 Q893 286 909 287 Q925 290 925 306 Q924 324 906 324 Q895 322 885 321 L819 322 Q814 322 811 320 Z" fill="#000" filter="url(#noise)" opacity="0.35"/>
</g>
<circle cx="866.3" cy="308.2" r="84.5" fill="none" stroke="#000" stroke-width="4.5"/>
<text transform="translate(697.6 105.7) scale(0.62 1)" font-size="51" fill="#000" stroke="#000" stroke-width="0.9" stroke-linejoin="round" textLength="523.9" lengthAdjust="spacing">Quick Release Latch</text>
<text transform="translate(1523.6 187.2) scale(0.62 1)" font-size="51" fill="#000" stroke="#000" stroke-width="0.9" stroke-linejoin="round" textLength="340.0" lengthAdjust="spacing">Shock Cutout</text>
<text transform="translate(1573.6 473.7) scale(0.62 1)" font-size="51" fill="#000" stroke="#000" stroke-width="0.9" stroke-linejoin="round" textLength="341.6" lengthAdjust="spacing">Key Lockable</text>
<text transform="translate(363.6 427.4) scale(0.62 1)" font-size="51" fill="#000" stroke="#000" stroke-width="0.9" stroke-linejoin="round" textLength="269.0" lengthAdjust="spacing">Hard Shell</text>
<text transform="translate(363.6 472.9) scale(0.62 1)" font-size="51" fill="#000" stroke="#000" stroke-width="0.9" stroke-linejoin="round" textLength="264.2" lengthAdjust="spacing">Lid &amp; Body</text>
<text transform="translate(212.6 939.7) scale(0.62 1)" font-size="51" fill="#000" stroke="#000" stroke-width="0.9" stroke-linejoin="round" textLength="477.1" lengthAdjust="spacing">Weather Resistant</text>
<text transform="translate(1275.6 988.3) scale(0.62 1)" font-size="51" fill="#000" stroke="#000" stroke-width="0.9" stroke-linejoin="round" textLength="478.7" lengthAdjust="spacing">Internal Organizer</text>
<text transform="translate(906.6 1164.7) scale(0.62 1)" font-size="52" fill="#000" stroke="#000" stroke-width="0.9" stroke-linejoin="round" textLength="601.3" lengthAdjust="spacing">American Engineering</text>
<g><rect x="770.5" y="1122.8" width="86.5" height="52" fill="#fff"/><rect x="770.5" y="1123.00" width="86.5" height="3.60" fill="#e0121c"/><rect x="770.5" y="1131.00" width="86.5" height="3.60" fill="#e0121c"/><rect x="770.5" y="1139.00" width="86.5" height="3.60" fill="#e0121c"/><rect x="770.5" y="1147.00" width="86.5" height="3.60" fill="#e0121c"/><rect x="770.5" y="1155.00" width="86.5" height="3.60" fill="#e0121c"/><rect x="770.5" y="1163.00" width="86.5" height="3.60" fill="#e0121c"/><rect x="770.5" y="1171.00" width="86.5" height="3.60" fill="#e0121c"/><rect x="770.5" y="1122.8" width="34.5" height="28.00" fill="#0f2b88"/><circle cx="773.4" cy="1125.6" r="1.3" fill="#fff"/><circle cx="779.1" cy="1125.6" r="1.3" fill="#fff"/><circle cx="784.9" cy="1125.6" r="1.3" fill="#fff"/><circle cx="790.6" cy="1125.6" r="1.3" fill="#fff"/><circle cx="796.4" cy="1125.6" r="1.3" fill="#fff"/><circle cx="802.1" cy="1125.6" r="1.3" fill="#fff"/><circle cx="776.2" cy="1128.4" r="1.3" fill="#fff"/><circle cx="782.0" cy="1128.4" r="1.3" fill="#fff"/><circle cx="787.8" cy="1128.4" r="1.3" fill="#fff"/><circle cx="793.5" cy="1128.4" r="1.3" fill="#fff"/><circle cx="799.2" cy="1128.4" r="1.3" fill="#fff"/><circle cx="773.4" cy="1131.2" r="1.3" fill="#fff"/><circle cx="779.1" cy="1131.2" r="1.3" fill="#fff"/><circle cx="784.9" cy="1131.2" r="1.3" fill="#fff"/><circle cx="790.6" cy="1131.2" r="1.3" fill="#fff"/><circle cx="796.4" cy="1131.2" r="1.3" fill="#fff"/><circle cx="802.1" cy="1131.2" r="1.3" fill="#fff"/><circle cx="776.2" cy="1134.0" r="1.3" fill="#fff"/><circle cx="782.0" cy="1134.0" r="1.3" fill="#fff"/><circle cx="787.8" cy="1134.0" r="1.3" fill="#fff"/><circle cx="793.5" cy="1134.0" r="1.3" fill="#fff"/><circle cx="799.2" cy="1134.0" r="1.3" fill="#fff"/><circle cx="773.4" cy="1136.8" r="1.3" fill="#fff"/><circle cx="779.1" cy="1136.8" r="1.3" fill="#fff"/><circle cx="784.9" cy="1136.8" r="1.3" fill="#fff"/><circle cx="790.6" cy="1136.8" r="1.3" fill="#fff"/><circle cx="796.4" cy="1136.8" r="1.3" fill="#fff"/><circle cx="802.1" cy="1136.8" r="1.3" fill="#fff"/><circle cx="776.2" cy="1139.6" r="1.3" fill="#fff"/><circle cx="782.0" cy="1139.6" r="1.3" fill="#fff"/><circle cx="787.8" cy="1139.6" r="1.3" fill="#fff"/><circle cx="793.5" cy="1139.6" r="1.3" fill="#fff"/><circle cx="799.2" cy="1139.6" r="1.3" fill="#fff"/><circle cx="773.4" cy="1142.4" r="1.3" fill="#fff"/><circle cx="779.1" cy="1142.4" r="1.3" fill="#fff"/><circle cx="784.9" cy="1142.4" r="1.3" fill="#fff"/><circle cx="790.6" cy="1142.4" r="1.3" fill="#fff"/><circle cx="796.4" cy="1142.4" r="1.3" fill="#fff"/><circle cx="802.1" cy="1142.4" r="1.3" fill="#fff"/><circle cx="776.2" cy="1145.2" r="1.3" fill="#fff"/><circle cx="782.0" cy="1145.2" r="1.3" fill="#fff"/><circle cx="787.8" cy="1145.2" r="1.3" fill="#fff"/><circle cx="793.5" cy="1145.2" r="1.3" fill="#fff"/><circle cx="799.2" cy="1145.2" r="1.3" fill="#fff"/><circle cx="773.4" cy="1148.0" r="1.3" fill="#fff"/><circle cx="779.1" cy="1148.0" r="1.3" fill="#fff"/><circle cx="784.9" cy="1148.0" r="1.3" fill="#fff"/><circle cx="790.6" cy="1148.0" r="1.3" fill="#fff"/><circle cx="796.4" cy="1148.0" r="1.3" fill="#fff"/><circle cx="802.1" cy="1148.0" r="1.3" fill="#fff"/></g>
</svg>
</body></html>
